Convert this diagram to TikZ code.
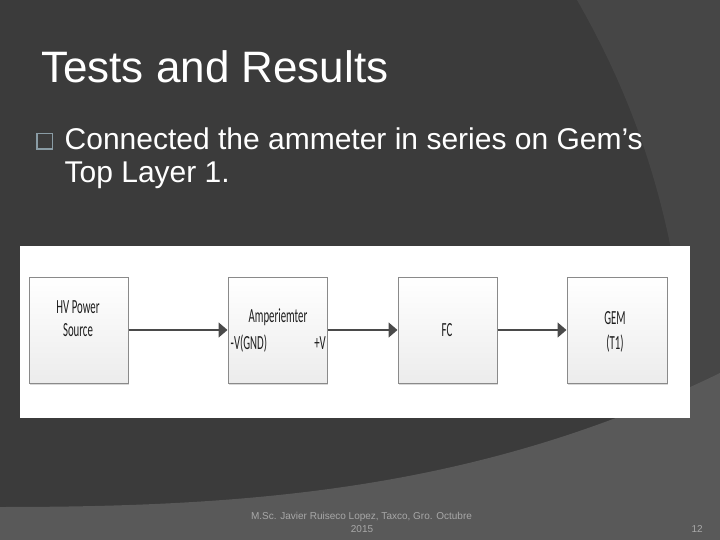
\documentclass[tikz,border=0pt]{standalone}
\usepackage{fontspec}
\setmainfont{Liberation Sans}
\newfontfamily\diagfont[FakeStretch=0.54]{Carlito}
\usetikzlibrary{arrows.meta,shadows}
\definecolor{bgdark}{HTML}{3B3B3B}
\definecolor{bgmid}{HTML}{464646}
\definecolor{bglight}{HTML}{595959}
\definecolor{bulletcol}{HTML}{8A9CA5}
\definecolor{footcol}{HTML}{A8A8A8}
\definecolor{boxline}{HTML}{8A8A8A}
\definecolor{boxbot}{HTML}{ECECEC}
\definecolor{conncol}{HTML}{4A4A4A}
\definecolor{dtextcol}{HTML}{1E1E1E}
\tikzset{
  blockbox/.style={draw=boxline, line width=1pt, top color=white, bottom color=boxbot,
    minimum width=99pt, minimum height=106pt, inner sep=0pt,
    drop shadow={shadow xshift=1pt, shadow yshift=-2pt, fill=black!15, opacity=1}},
  dtext/.style={font=\diagfont\fontsize{20}{24}\selectfont, text=dtextcol, inner sep=0pt, anchor=base},
  conn/.style={draw=conncol, line width=1.6pt, -{Triangle[length=9pt,width=15pt]}},
  slidetext/.style={text=white, inner sep=0pt, anchor=base west},
  foottext/.style={font=\fontsize{10}{12}\selectfont, text=footcol, inner sep=0pt, anchor=base}
}
\begin{document}
\begin{tikzpicture}[x=1pt,y=-1pt]
\useasboundingbox (0,0) rectangle (720,540);
% background
\fill[bgdark] (0,0) rectangle (720,540);
\fill[bgmid] (577,0) .. controls (640,110) and (680,230) .. (690,400) -- (720,400) -- (720,0) -- cycle;
\fill[bglight] (0,507) .. controls (250,507) and (480,490) .. (720,373) -- (720,540) -- (0,540) -- cycle;
% title and bullet
\node[slidetext, font=\fontsize{44}{52}\selectfont] (title) at (41,83) {Tests and Results};
\node[draw=bulletcol, line width=1.5pt, minimum width=15.5pt, minimum height=15.5pt, inner sep=0pt] (bullet) at (44.5,141.5) {};
\node[slidetext, font=\fontsize{30}{33}\selectfont] (line1) at (64.5,150) {Connected the ammeter in series on Gem’s};
\node[slidetext, font=\fontsize{30}{33}\selectfont] (line2) at (64.5,183) {Top Layer 1.};
% panel
\node[fill=white, minimum width=670pt, minimum height=172pt, inner sep=0pt] (panel) at (355,332) {};
% boxes
\node[blockbox] (b1) at (78.5,330) {};
\node[blockbox] (b2) at (277.5,330) {};
\node[blockbox] (b3) at (447.5,330) {};
\node[blockbox, minimum width=100pt] (b4) at (617,330) {};
% box texts
\node[dtext] (t1a) at (78,313) {HV Power};
\node[dtext] (t1b) at (78,336) {Source};
\node[dtext] (t2a) at (278,322) {Amperiemter};
\node[dtext, anchor=base west] (t2b) at (230.5,349) {-V(GND)};
\node[dtext, anchor=base east] (t2c) at (326,349) {+V};
\node[dtext] (t3) at (447,336) {FC};
\node[dtext] (t4a) at (615,324) {GEM};
\node[dtext] (t4b) at (615,349) {(T1)};
% connectors
\draw[conn] (b1.east) -- (b2.west);
\draw[conn] (b2.east) -- (b3.west);
\draw[conn] (b3.east) -- (b4.west);
% footer
\node[foottext] (foot1) at (361.5,519) {M.Sc. Javier Ruiseco Lopez, Taxco, Gro. Octubre};
\node[foottext] (foot2) at (362,532) {2015};
\node[foottext, anchor=base east] (page) at (703,532) {12};
\end{tikzpicture}
\end{document}
